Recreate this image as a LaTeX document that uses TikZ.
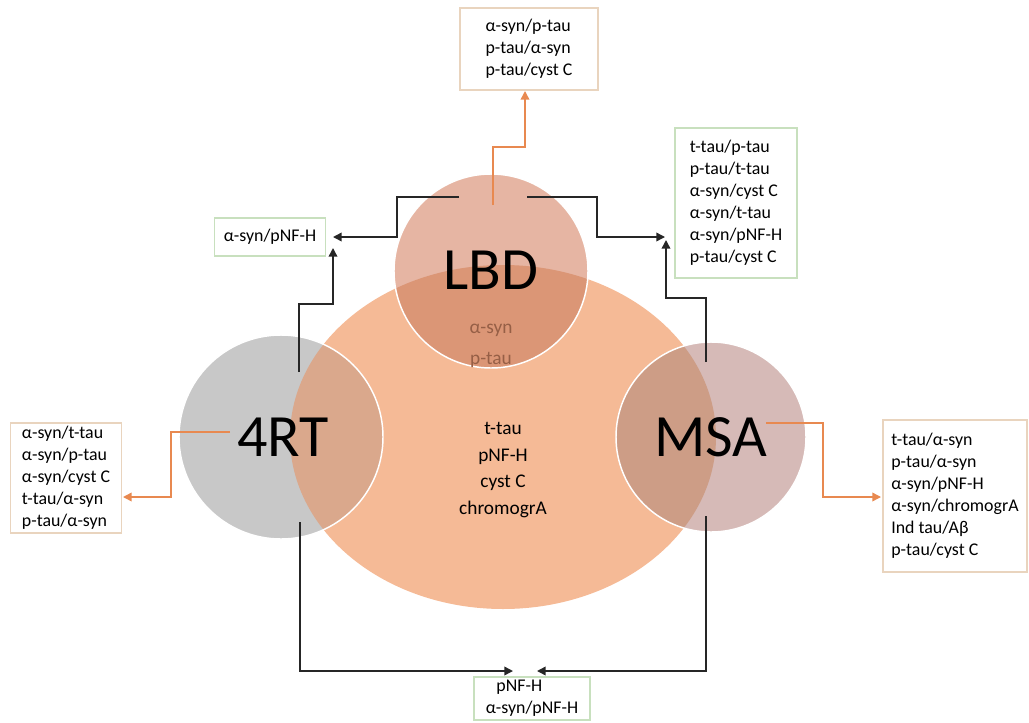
\documentclass[tikz,border=0pt]{standalone}
\usepackage{fontspec}
\setmainfont{Carlito}
\usetikzlibrary{arrows.meta}
\definecolor{ellC}{RGB}{245,186,150}
\definecolor{lbdC}{RGB}{230,181,163}
\definecolor{lbdI}{RGB}{219,150,118}
\definecolor{grayC}{RGB}{200,200,200}
\definecolor{grayI}{RGB}{218,168,140}
\definecolor{msaC}{RGB}{214,186,183}
\definecolor{msaI}{RGB}{205,157,134}
\definecolor{brownT}{RGB}{150,95,70}
\definecolor{orangeA}{RGB}{232,137,80}
\definecolor{tanB}{RGB}{233,212,190}
\definecolor{greenB}{RGB}{200,224,190}
\definecolor{blackL}{RGB}{38,38,38}
\begin{document}
\begin{tikzpicture}[x=0.75pt,y=-0.75pt,
  bw/.style={minimum width=#1*0.75pt},
  bh/.style={minimum height=#1*0.75pt},
  boxbase/.style={rectangle, line width=0.9pt, fill=white, inner sep=0pt, align=left,
    font=\fontsize{13.4}{16.5}\selectfont, text=black},
  tanbox/.style={boxbase, draw=tanB},
  greenbox/.style={boxbase, draw=greenB},
  bigtxt/.style={font=\fontsize{45}{50}\selectfont, text=black, inner sep=0pt},
  midtxt/.style={font=\fontsize{14.5}{20}\selectfont, align=center, inner sep=0pt},
  barr/.style={draw=blackL, line width=1.1pt, -{Triangle[length=6.5pt,width=6.5pt]}},
  oarr/.style={draw=orangeA, line width=1.1pt, -{Triangle[length=6.5pt,width=6.5pt]}},
  ring/.style={draw=white, line width=1.1pt}]
\useasboundingbox (0,0) rectangle (1029,722);

% shapes
\fill[ellC] (503,437) ellipse [x radius=213, y radius=172];
\fill[lbdC] (491,271) circle [radius=97];
\fill[grayC] (281,437) circle [radius=102];
\fill[msaC] (711,437) circle [radius=95];
\begin{scope}
  \clip (503,437) ellipse [x radius=213, y radius=172];
  \fill[lbdI] (491,271) circle [radius=97];
  \fill[grayI] (281,437) circle [radius=102];
  \fill[msaI] (711,437) circle [radius=95];
\end{scope}
\draw[ring] (491,271) circle [radius=97];
\draw[ring] (281,437) circle [radius=102];
\draw[ring] (711,437) circle [radius=95];

% labels in shapes
\node[bigtxt] (lbd) at (491,270) {LBD};
\node[bigtxt] (rt) at (283,437) {4RT};
\node[bigtxt] (msa) at (711,437) {MSA};
\node[midtxt, text=brownT, font=\fontsize{14.5}{23.5}\selectfont] (lbdin) at (491,346) {α-syn\\p-tau};
\node[midtxt] (core) at (503,470) {t-tau\\pNF-H\\cyst C\\chromogrA};

% boxes
\node[tanbox, bw=138, bh=82] (topbox) at (529,49) {α-syn/p-tau\\p-tau/α-syn\\p-tau/cyst C};
\node[greenbox, bw=122, bh=150] (rtbox) at (736,203) {t-tau/p-tau\\p-tau/t-tau\\α-syn/cyst C\\α-syn/t-tau\\α-syn/pNF-H\\p-tau/cyst C};
\node[greenbox, bw=111, bh=38, align=center] (pnfbox) at (270,237) {α-syn/pNF-H};
\node[tanbox, bw=111, bh=110] (leftbox) at (66,478) {α-syn/t-tau\\α-syn/p-tau\\α-syn/cyst C\\t-tau/α-syn\\p-tau/α-syn};
\node[tanbox, bw=144, bh=152] (rightbox) at (955,496) {t-tau/α-syn\\p-tau/α-syn\\α-syn/pNF-H\\α-syn/chromogrA\\Ind tau/Aβ\\p-tau/cyst C};
\node[greenbox, bw=116, bh=43] (botbox) at (532,698.5) {\hspace*{8pt}pNF-H\\α-syn/pNF-H};

% connector coordinates
\coordinate (a1s) at (493,205); \coordinate (a1b) at (493,147); \coordinate (a1e) at (525,91);
\coordinate (a2s) at (459,197); \coordinate (a2m) at (397,237); \coordinate (a2e) at (333,237);
\coordinate (a3s) at (527,197); \coordinate (a3m) at (597,237); \coordinate (a3e) at (665,237);
\coordinate (a4s) at (299,372); \coordinate (a4m) at (333,304); \coordinate (a4e) at (333,248);
\coordinate (a5s) at (706,362); \coordinate (a5m) at (666,298); \coordinate (a5e) at (666,240);
\coordinate (a6s) at (230,432); \coordinate (a6m) at (171,497); \coordinate (a6e) at (123,497);
\coordinate (a7s) at (766,423); \coordinate (a7m) at (823,497); \coordinate (a7e) at (881,497);
\coordinate (a8s) at (300,522); \coordinate (a8e) at (513,671);
\coordinate (a9s) at (706,516); \coordinate (a9e) at (537,671);

% connectors
\draw[oarr] (a1s) -- (a1b) -| (a1e);
\draw[barr] (a2s) -| (a2m) -- (a2e);
\draw[barr] (a3s) -| (a3m) -- (a3e);
\draw[barr] (a4s) |- (a4m) -- (a4e);
\draw[barr] (a5s) |- (a5m) -- (a5e);
\draw[oarr] (a6s) -| (a6m) -- (a6e);
\draw[oarr] (a7s) -| (a7m) -- (a7e);
\draw[barr] (a8s) |- (a8e);
\draw[barr] (a9s) |- (a9e);
\end{tikzpicture}
\end{document}
